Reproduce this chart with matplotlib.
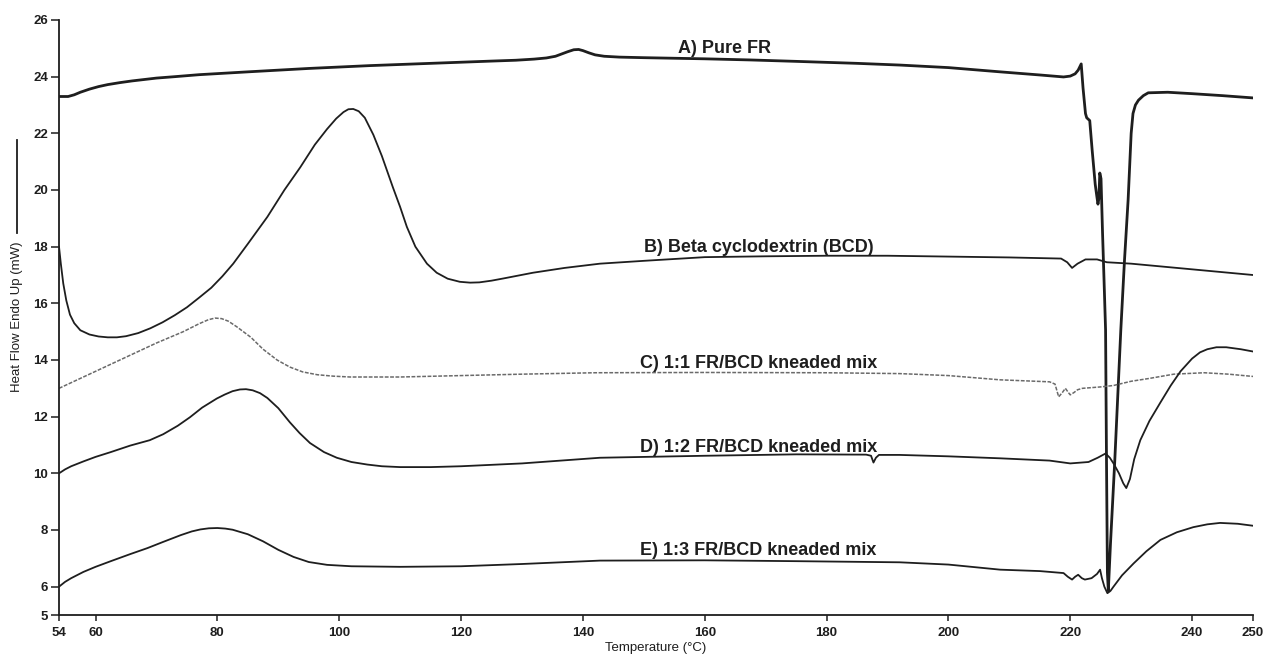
import matplotlib

matplotlib.use("Agg")
import matplotlib.pyplot as plt  # noqa: E402
from matplotlib.lines import Line2D  # noqa: E402

plt.rcParams["font.family"] = ["Liberation Sans", "DejaVu Sans"]

# DSC thermograms, temperature (°C) vs heat flow (mW)
pure_fr_t = [54, 55.5, 56.5, 57.5, 59, 60.5, 62, 64, 66, 68, 70, 73, 77, 81, 85,
             90, 95, 100, 105, 110, 115, 120, 125, 129, 132, 134, 135.5, 136.5,
             137.5, 138.5, 139.3, 140, 141, 142, 143.5, 146, 150, 160, 167.5,
             175, 185, 192, 200, 208.5, 215, 218.9, 220, 220.8, 221.3, 221.8,
             222.1, 222.5, 222.7, 223.2, 223.6, 224.1, 224.35, 224.55, 224.7,
             224.85, 225.05, 225.3, 225.55, 225.8, 225.95, 226.1, 226.25, 226.6,
             227.3, 228.3, 228.9, 229.5, 230.0, 230.3, 230.7, 231.2, 232.0,
             232.8, 236, 240, 245, 250]
pure_fr_hf = [23.3, 23.3, 23.36, 23.45, 23.56, 23.65, 23.72, 23.79, 23.85, 23.9,
              23.95, 24.0, 24.07, 24.12, 24.17, 24.23, 24.29, 24.34, 24.39, 24.43,
              24.47, 24.51, 24.55, 24.58, 24.62, 24.66, 24.72, 24.8, 24.88,
              24.95, 24.96, 24.92, 24.84, 24.77, 24.72, 24.69, 24.67, 24.63,
              24.59, 24.54, 24.47, 24.41, 24.32, 24.17, 24.06, 23.99, 24.02,
              24.1, 24.23, 24.45, 23.6, 22.7, 22.55, 22.45, 21.4, 20.2, 19.8,
              19.5, 19.7, 20.6, 20.4, 18.5, 16.8, 15.06, 10.5, 6.5, 5.85, 7.5,
              10.4, 15.06, 17.5, 19.65, 22.0, 22.7, 23.0, 23.17, 23.33, 23.43,
              23.45, 23.4, 23.33, 23.25]

bcd_t = [54, 54.3, 54.7, 55.2, 55.8, 56.5, 57.5, 59, 60.5, 62, 63.5, 65, 67, 69,
         71, 73, 75, 77, 79, 80.8, 82.6, 85, 88.2, 91, 93.6, 96, 98, 99.5,
         100.7, 101.5, 102.3, 103.2, 104.2, 105.6, 107, 108.8, 110, 111.1,
         112.5, 114.4, 116, 117.8, 119.8, 121.5, 123, 125, 127, 131.8, 137,
         142.8, 150, 160, 170, 180, 190, 200, 210, 218.5, 219.5, 220.3, 221.2,
         222.5, 224.4, 226, 230, 235, 240, 245, 250]
bcd_hf = [18.0, 17.4, 16.7, 16.1, 15.6, 15.3, 15.05, 14.9, 14.83, 14.8, 14.8,
          14.84, 14.95, 15.12, 15.33, 15.58, 15.86, 16.2, 16.55, 16.95, 17.4,
          18.1, 19.05, 20.0, 20.8, 21.6, 22.15, 22.52, 22.75, 22.85, 22.86,
          22.78, 22.55, 21.95, 21.2, 20.1, 19.4, 18.7, 18.0, 17.4, 17.08, 16.87,
          16.76, 16.73, 16.74, 16.8, 16.88, 17.08, 17.25, 17.4, 17.5, 17.63,
          17.66, 17.68, 17.68, 17.65, 17.62, 17.58, 17.45, 17.25, 17.4, 17.55,
          17.55, 17.45, 17.4, 17.3, 17.2, 17.1, 17.0]

mix11_t = [54, 58, 62, 66, 70, 74.4, 77, 78.5, 79.6, 80.7, 81.8, 83.2, 85.5,
           87.5, 89.8, 91.9, 94, 96.4, 99, 101.8, 110, 120, 130, 142, 160, 180,
           192, 200, 208.5, 216.6, 217.5, 218.1, 218.7, 219.2, 219.7, 220, 220.6,
           221.2, 222, 225, 227.1, 230, 233, 237, 242, 246, 250]
mix11_hf = [13.0, 13.4, 13.8, 14.2, 14.6, 15.0, 15.28, 15.42, 15.48, 15.46,
            15.37, 15.17, 14.8, 14.38, 14.0, 13.75, 13.58, 13.48, 13.43, 13.4,
            13.4, 13.45, 13.5, 13.55, 13.56, 13.55, 13.52, 13.45, 13.3, 13.23,
            13.15, 12.7, 12.85, 13.0, 12.85, 12.77, 12.85, 12.95, 13.0, 13.05,
            13.1, 13.25, 13.35, 13.5, 13.55, 13.5, 13.42]

mix12_t = [54, 55, 56, 58, 60, 62.5, 65.7, 68.9, 71.1, 73.5, 75.5, 77.5, 79.9,
           81.2, 82.5, 83.7, 84.7, 85.8, 87, 88.2, 90, 91.9, 93.5, 95.2, 97.5,
           99.6, 102, 104.6, 107, 110, 115, 120, 130, 142.8, 160, 175, 186.5,
           187.3, 187.7, 188.1, 188.6, 192, 200, 208.5, 216.6, 220, 223, 224.5,
           225.8, 226.5, 227.1, 228, 228.7, 229.2, 229.8, 230.5, 231.5, 233,
           234.8, 236.5, 238.1, 240, 241.3, 242.5, 244, 245.6, 248, 250]
mix12_hf = [10.0, 10.14, 10.25, 10.42, 10.58, 10.75, 10.98, 11.17, 11.38, 11.68,
            11.98, 12.32, 12.64, 12.78, 12.9, 12.96, 12.97, 12.93, 12.83, 12.66,
            12.3, 11.8, 11.42, 11.07, 10.75, 10.55, 10.4, 10.31, 10.25, 10.22,
            10.22, 10.25, 10.35, 10.55, 10.62, 10.67, 10.66, 10.62, 10.38, 10.55,
            10.65, 10.65, 10.6, 10.53, 10.45, 10.35, 10.4, 10.55, 10.7, 10.55,
            10.35, 10.0, 9.65, 9.48, 9.8, 10.5, 11.17, 11.85, 12.5, 13.1, 13.6,
            14.05, 14.27, 14.38, 14.45, 14.45, 14.38, 14.3]

mix13_t = [54, 55, 56, 58, 60, 62.5, 65.7, 68.5, 71.1, 74, 75.8, 77.2, 78.6, 80,
           81.3, 82.5, 85, 87.5, 90, 92.5, 95, 98, 102, 110, 120, 130, 142.8,
           160, 175, 192, 200, 208.5, 215, 218.9, 219.6, 220.3, 220.8, 221.3,
           221.9, 222.4, 223.5, 224.4, 224.9, 225.2, 225.6, 226.1, 226.6, 227.1,
           228.5, 230.4, 232.5, 234.8, 237.5, 240.2, 242.5, 244.6, 247.5, 250]
mix13_hf = [6.0, 6.17, 6.3, 6.52, 6.7, 6.9, 7.15, 7.36, 7.58, 7.82, 7.95, 8.02,
            8.06, 8.07, 8.05, 8.01, 7.85, 7.6, 7.3, 7.05, 6.87, 6.77, 6.72,
            6.7, 6.72, 6.8, 6.92, 6.93, 6.9, 6.86, 6.78, 6.6, 6.55, 6.48, 6.35,
            6.25, 6.35, 6.42, 6.3, 6.25, 6.3, 6.45, 6.6, 6.3, 6.0, 5.77, 5.85,
            6.0, 6.4, 6.82, 7.25, 7.65, 7.92, 8.1, 8.2, 8.25, 8.22, 8.15]

curve_labels = ["A) Pure FR", "B) Beta cyclodextrin (BCD)",
                "C) 1:1 FR/BCD kneaded mix", "D) 1:2 FR/BCD kneaded mix",
                "E) 1:3 FR/BCD kneaded mix"]
label_t = [163.3, 168.9, 168.9, 168.9, 168.8]
label_hf = [24.82, 17.82, 13.7, 10.76, 7.12]

x_ticks = [54, 60, 80, 100, 120, 140, 160, 180, 200, 220, 240, 250]
y_ticks = [5, 6, 8, 10, 12, 14, 16, 18, 20, 22, 24, 26]

ink = "#1e1e1e"

fig = plt.figure(figsize=(12.69, 6.57), dpi=100)
ax = fig.add_axes([59 / 1269, 42 / 657, 1194 / 1269, 595 / 657])

ax.plot(pure_fr_t, pure_fr_hf, color=ink, lw=2.0)
ax.plot(bcd_t, bcd_hf, color=ink, lw=1.3)
ax.plot(mix11_t, mix11_hf, color="#6a6a6a", lw=1.1, linestyle=(0, (2.5, 1)))
ax.plot(mix12_t, mix12_hf, color=ink, lw=1.3)
ax.plot(mix13_t, mix13_hf, color=ink, lw=1.3)

for text, t, hf in zip(curve_labels, label_t, label_hf):
    ax.text(t, hf, text, ha="center", va="baseline", fontsize=13,
            fontweight="bold", color=ink)

ax.set_xlim(54, 250)
ax.set_ylim(5, 26)
ax.set_xticks(x_ticks)
ax.set_yticks(y_ticks)
ax.tick_params(axis="both", direction="out", colors=ink, labelsize=9.5, width=1.1)
ax.tick_params(axis="y", length=6, pad=2)
ax.tick_params(axis="x", length=4, pad=5)
for lab in ax.get_xticklabels() + ax.get_yticklabels():
    lab.set_fontweight("bold")

for side in ("top", "right"):
    ax.spines[side].set_visible(False)
for side in ("left", "bottom"):
    ax.spines[side].set_linewidth(1.3)
    ax.spines[side].set_color(ink)

ax.set_xlabel("Temperature (°C)", fontsize=9.5, color=ink, labelpad=2)

# y label with the line sample drawn above it
fig.text(17 / 1269, 340 / 657, "Heat Flow Endo Up (mW)", rotation=90,
         ha="center", va="center", fontsize=9.5, color=ink)
fig.add_artist(Line2D([17 / 1269, 17 / 1269], [424 / 657, 517 / 657],
                      color=ink, lw=1.3, transform=fig.transFigure))

fig.savefig("out.png", dpi=100)
plt.close(fig)
